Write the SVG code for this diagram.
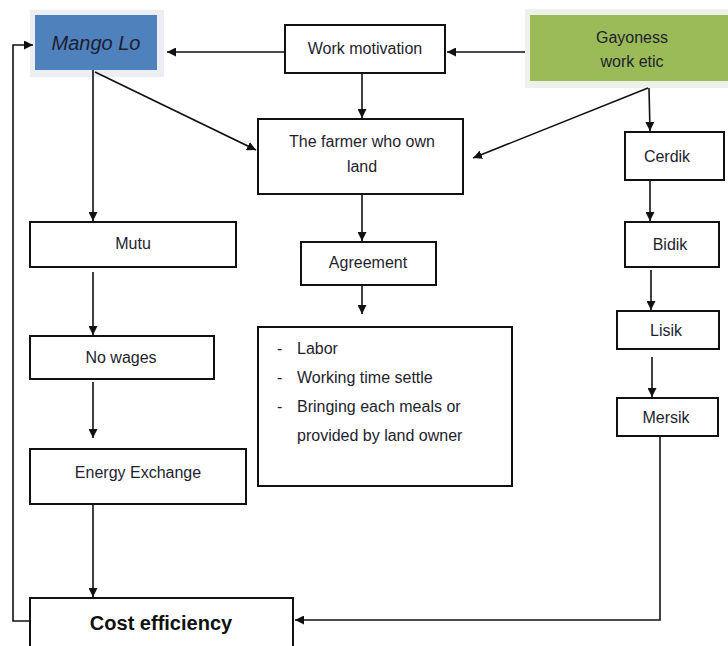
<svg xmlns="http://www.w3.org/2000/svg" width="728" height="646" viewBox="0 0 728 646">
<defs>
<marker id="ah" viewBox="0 0 10 10" refX="10" refY="5" markerWidth="9" markerHeight="9" markerUnits="userSpaceOnUse" orient="auto">
<path d="M0,0 L10,5 L0,10 z" fill="#111"/>
</marker>
<style>
.box{fill:#fff;stroke:#111;stroke-width:2}
.t{font-family:"Liberation Sans",Arial,sans-serif;font-size:16px;fill:#1e1e2e;text-anchor:middle}
.l{font-family:"Liberation Sans",Arial,sans-serif;font-size:16px;fill:#1e1e2e}
.c{fill:none;stroke:#111;stroke-width:1.6;marker-end:url(#ah)}
.n{fill:none;stroke:#111;stroke-width:1.6}
</style>
</defs>
<rect width="728" height="646" fill="#fff"/>
<g id="mango">
<rect x="30" y="10" width="134" height="67" fill="#eceef3"/>
<rect x="35" y="15" width="122" height="55" fill="#4f81bd"/>
<text x="96" y="50" class="t" style="font-style:italic;font-size:20px" fill="#1a1a2a">Mango Lo</text>
</g>
<g id="workmotivation">
<rect x="285" y="25" width="160" height="48" class="box"/>
<text x="365" y="54" class="t">Work motivation</text>
</g>
<g id="gayoness">
<rect x="525" y="9" width="203" height="79" fill="#eef1ea"/>
<rect x="530" y="15" width="198" height="66" fill="#9bbb59"/>
<text x="632" y="43" class="t">Gayoness</text>
<text x="632" y="67" class="t">work etic</text>
</g>
<g id="farmer">
<rect x="258" y="119" width="205" height="75" class="box"/>
<text x="362" y="147" class="t">The farmer who own</text>
<text x="362" y="172" class="t">land</text>
</g>
<g id="cerdik">
<rect x="625" y="132" width="99" height="48" class="box"/>
<text x="667" y="162" class="t">Cerdik</text>
</g>
<g id="bidik">
<rect x="625" y="222" width="94" height="45" class="box"/>
<text x="670" y="250" class="t">Bidik</text>
</g>
<g id="lisik">
<rect x="617" y="311" width="102" height="38" class="box"/>
<text x="666" y="336" class="t">Lisik</text>
</g>
<g id="mersik">
<rect x="617" y="398" width="101" height="38" class="box"/>
<text x="666" y="423" class="t">Mersik</text>
</g>
<g id="mutu">
<rect x="30" y="222" width="206" height="45" class="box"/>
<text x="133" y="249" class="t">Mutu</text>
</g>
<g id="nowages">
<rect x="30" y="336" width="184" height="43" class="box"/>
<text x="121" y="363" class="t">No wages</text>
</g>
<g id="energy">
<rect x="30" y="449" width="216" height="55" class="box"/>
<text x="138" y="478" class="t">Energy Exchange</text>
</g>
<g id="agreement">
<rect x="301" y="242" width="135" height="43" class="box"/>
<text x="368" y="268" class="t">Agreement</text>
</g>
<g id="terms">
<rect x="258" y="327" width="254" height="159" class="box"/>
<text x="277" y="354" class="l">-</text>
<text x="297" y="354" class="l">Labor</text>
<text x="277" y="383" class="l">-</text>
<text x="297" y="383" class="l">Working time settle</text>
<text x="277" y="412" class="l">-</text>
<text x="297" y="412" class="l">Bringing each meals or</text>
<text x="297" y="441" class="l">provided by land owner</text>
</g>
<g id="cost">
<rect x="30" y="598" width="263" height="60" class="box"/>
<text x="161" y="630" class="t" style="font-weight:bold;font-size:20px;fill:#111">Cost efficiency</text>
</g>
<g id="connectors">
<line x1="285" y1="52" x2="167" y2="52" class="c"/>
<line x1="525" y1="52" x2="447" y2="52" class="c"/>
<line x1="362" y1="73" x2="362" y2="118" class="c"/>
<line x1="95" y1="72" x2="256" y2="150" class="c"/>
<line x1="648" y1="88" x2="473" y2="158" class="c"/>
<line x1="649" y1="88" x2="650" y2="131" class="c"/>
<line x1="650" y1="180" x2="650" y2="221" class="c"/>
<line x1="651" y1="270" x2="651" y2="310" class="c"/>
<line x1="652" y1="357" x2="652" y2="397" class="c"/>
<line x1="93" y1="70" x2="93" y2="221" class="c"/>
<line x1="93" y1="272" x2="93" y2="335" class="c"/>
<line x1="93" y1="382" x2="93" y2="438" class="c"/>
<line x1="93" y1="504" x2="93" y2="597" class="c"/>
<line x1="362" y1="194" x2="362" y2="241" class="c"/>
<line x1="362" y1="285" x2="362" y2="314" class="c"/>
<polyline points="660,436 660,620 295,620" class="c"/>
<polyline points="30,621 13,621 13,45 33,45" class="c"/>
</g>
</svg>
